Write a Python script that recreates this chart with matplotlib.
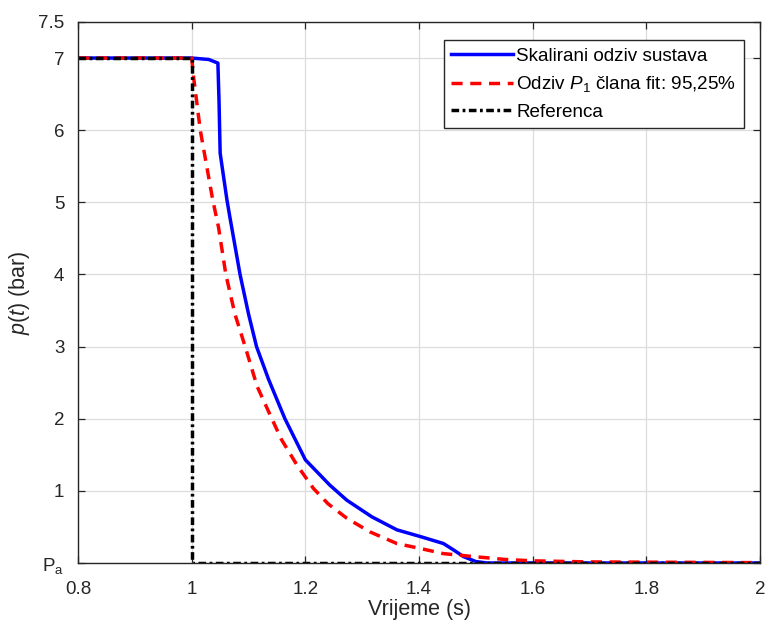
import numpy as np
import matplotlib.pyplot as plt

plt.rcParams['font.family'] = ['Liberation Sans', 'DejaVu Sans']
plt.rcParams['mathtext.fontset'] = 'custom'
plt.rcParams['mathtext.rm'] = 'Liberation Sans'
plt.rcParams['mathtext.it'] = 'Liberation Sans:italic'

# Skalirani odziv sustava
t_sys = [0.8, 1.0, 1.03, 1.046, 1.048, 1.05, 1.062, 1.067, 1.085, 1.10, 1.114, 1.135,
         1.155, 1.164, 1.2, 1.243, 1.273, 1.317, 1.361, 1.403, 1.443, 1.461, 1.478,
         1.50, 1.52, 2.0]
p_sys = [7.0, 7.0, 6.98, 6.93, 6.4, 5.68, 5.03, 4.8, 4.0, 3.45, 3.0, 2.55,
         2.17, 2.0, 1.43, 1.08, 0.87, 0.64, 0.46, 0.365, 0.27, 0.18, 0.09,
         0.02, 0.0, 0.0]

# Odziv P1 clana
t_fit = [0.8, 1.0, 1.003, 1.015, 1.037, 1.047, 1.060, 1.076, 1.094, 1.115, 1.141, 1.158,
         1.185, 1.214, 1.24, 1.273, 1.314, 1.361, 1.403, 1.443, 1.495, 1.55, 1.6,
         1.7, 2.0]
p_fit = [7.0, 7.0, 6.75, 6.0, 5.03, 4.66, 4.0, 3.45, 3.0, 2.45, 2.0, 1.71,
         1.36, 1.035, 0.82, 0.62, 0.43, 0.27, 0.20, 0.13, 0.09, 0.05, 0.03,
         0.015, 0.005]

# Referenca
t_ref = [0.8, 1.0, 1.0, 2.0]
p_ref = [7.0, 7.0, 0.0, 0.0]

yticks = [0, 1, 2, 3, 4, 5, 6, 7, 7.5]
ytick_labels = ['P$_\\mathrm{a}$', '1', '2', '3', '4', '5', '6', '7', '7.5']
xticks = [0.8, 1, 1.2, 1.4, 1.6, 1.8, 2]
xtick_labels = ['0.8', '1', '1.2', '1.4', '1.6', '1.8', '2']

fig = plt.figure(figsize=(7.66, 6.28), dpi=100)
ax = fig.add_axes([0.102, 0.1035, 0.890, 0.8615])

ax.plot(t_sys, p_sys, color='#0000ff', lw=2.5, label='Skalirani odziv sustava')
ax.plot(t_fit, p_fit, color='#ff0000', lw=2.5, ls=(0, (3.2, 2.2)),
        label='Odziv $\\mathit{P_1}$ člana fit: 95,25%')
ax.plot(t_ref, p_ref, color='black', lw=2.5, ls=(0, (2.2, 1, 0.8, 1)), label='Referenca')

ax.set_xlim(0.8, 2)
ax.set_ylim(0, 7.5)
ax.set_xticks(xticks)
ax.set_xticklabels(xtick_labels)
ax.set_yticks(yticks)
ax.set_yticklabels(ytick_labels)
ax.grid(True, color='#dcdcdc', lw=0.9)
ax.set_axisbelow(True)

ax.tick_params(direction='in', top=True, right=True, length=5, width=0.9,
               labelsize=13.5, colors='#262626')
ax.tick_params(axis='x', pad=13)
ax.tick_params(axis='y', pad=10)
for s in ax.spines.values():
    s.set_color('#262626')
    s.set_linewidth(1.0)

ax.set_xlabel('Vrijeme (s)', fontsize=15.5, color='#262626', labelpad=1)
ax.set_ylabel('$p(t)$ (bar)', fontsize=15.5, color='#262626', labelpad=4)

leg = ax.legend(loc='upper right', bbox_to_anchor=(0.9765, 0.9667), borderaxespad=0,
                fontsize=13.6, handlelength=3.3, handletextpad=0.15, borderpad=0.4,
                labelspacing=0.5, fancybox=False, framealpha=1)
leg.get_frame().set_edgecolor('#262626')
leg.get_frame().set_linewidth(1.0)

plt.savefig('out.png', dpi=100)
